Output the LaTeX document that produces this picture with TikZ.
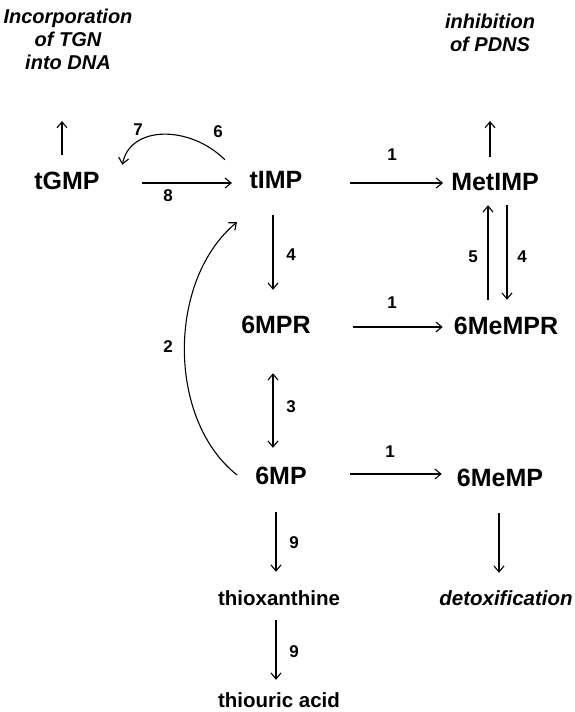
\documentclass[tikz,border=0pt]{standalone}
\usepackage{fontspec}
\setmainfont{Liberation Sans}
\usetikzlibrary{arrows.meta}
\tikzset{
  big/.style={font=\fontsize{25}{30}\selectfont\bfseries, inner sep=0pt, text height=18pt, text depth=0pt},
  small/.style={font=\fontsize{20.5}{24}\selectfont\bfseries, inner sep=0pt, text height=15pt, text depth=0pt},
  ital/.style={font=\fontsize{20}{23}\selectfont\bfseries\itshape, inner sep=0pt, align=center},
  num/.style={font=\fontsize{17}{20}\selectfont\bfseries, inner sep=0pt},
  arr/.style={line width=1.1pt, -{Straight Barb[length=6pt,width=10pt,line width=1.1pt]}},
  darr/.style={line width=1.1pt, {Straight Barb[length=6pt,width=10pt,line width=1.1pt]}-{Straight Barb[length=6pt,width=10pt,line width=1.1pt]}}
}
\begin{document}
\begin{tikzpicture}[x=1pt,y=-1pt]
\useasboundingbox (0,0) rectangle (574,712);
% nodes
\node[ital, anchor=south] (inc) at (68,70) {Incorporation\\of TGN\\into DNA};
\node[ital, anchor=south] (inh) at (490,52) {inhibition\\of PDNS};
\node[big] (tGMP) at (67,180) {tGMP};
\node[big] (tIMP) at (276,179) {tIMP};
\node[big] (MetIMP) at (495,181) {MetIMP};
\node[big] (6MPR) at (276,324) {6MPR};
\node[big] (6MeMPR) at (506,325) {6MeMPR};
\node[big] (6MP) at (281,475) {6MP};
\node[big] (6MeMP) at (500,477) {6MeMP};
\node[small] (thiox) at (279,598) {thioxanthine};
\node[small] (thiou) at (279,700) {thiouric acid};
\node[small, font=\fontsize{20.5}{24}\selectfont\bfseries\itshape] (detox) at (506,598) {detoxification};
% labels
\node[num] (l7) at (138,130) {7};
\node[num] (l6) at (218,132) {6};
\node[num] (l8) at (168,196) {8};
\node[num] (l1a) at (392,155) {1};
\node[num] (l4a) at (291,255) {4};
\node[num] (l5) at (473,257) {5};
\node[num] (l4b) at (522,257) {4};
\node[num] (l1b) at (392,303) {1};
\node[num] (l3) at (291,407) {3};
\node[num] (l2) at (168,347) {2};
\node[num] (l1c) at (390,452) {1};
\node[num] (l9a) at (294,543) {9};
\node[num] (l9b) at (294,652) {9};
% connectors
\draw[arr] ([xshift=-5pt,yshift=16pt]tGMP.north) -- ([xshift=-6pt,yshift=-51pt]inc.south);
\draw[arr] ([xshift=-5pt,yshift=15pt]MetIMP.north) -- ([xshift=0pt,yshift=-69pt]inh.south);
\draw[arr] ([xshift=-24.5pt,yshift=10pt]tIMP.north west) .. controls (190,125) and (130,125) .. ([xshift=22.5pt,yshift=6pt]tGMP.north east);
\draw[arr] ([xshift=42.5pt,yshift=-3pt]tGMP.east) -- ([xshift=-17.5pt,yshift=-4pt]tIMP.west);
\draw[arr] ([xshift=47.5pt,yshift=-4pt]tIMP.east) -- ([xshift=-8pt,yshift=-2pt]MetIMP.west);
\draw[arr] ([xshift=-3pt,yshift=-27pt]tIMP.south) -- ([xshift=-3pt,yshift=25pt]6MPR.north);
\draw[arr] ([xshift=-18pt,yshift=16pt]6MeMPR.north) -- ([xshift=-7pt,yshift=-15pt]MetIMP.south);
\draw[arr] ([xshift=12pt,yshift=-15pt]MetIMP.south) -- ([xshift=1pt,yshift=16pt]6MeMPR.north);
\draw[arr] ([xshift=42pt,yshift=-3pt]6MPR.east) -- ([xshift=-11pt,yshift=-2pt]6MeMPR.west);
\draw[darr] ([xshift=-3pt,yshift=-40pt]6MPR.south) -- ([xshift=-8pt,yshift=18pt]6MP.north);
\draw[arr] ([xshift=-18pt]6MP.west) .. controls (167,420) and (167,280) .. ([xshift=-12.5pt,yshift=-34pt]tIMP.south west);
\draw[arr] ([xshift=43pt,yshift=1pt]6MP.east) -- ([xshift=-15pt,yshift=3pt]6MeMP.west);
\draw[arr] ([xshift=-5pt,yshift=-28pt]6MP.south) -- ([xshift=-3pt,yshift=18.5pt]thiox.north);
\draw[arr] ([xshift=-3pt,yshift=-14.5pt]thiox.south) -- ([xshift=-3pt,yshift=12.5pt]thiou.north);
\draw[arr] ([xshift=-1pt,yshift=-27pt]6MeMP.south) -- ([xshift=-7pt,yshift=17.5pt]detox.north);
\end{tikzpicture}
\end{document}
